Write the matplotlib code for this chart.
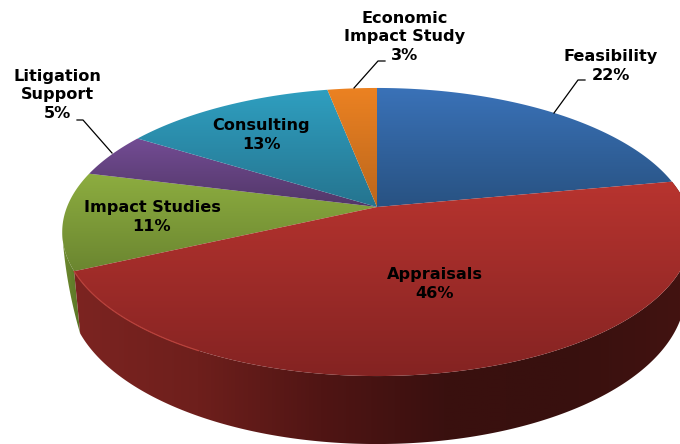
import matplotlib
matplotlib.use('Agg')
import matplotlib.pyplot as plt
import numpy as np
from matplotlib.colors import LinearSegmentedColormap
from matplotlib.patches import Polygon

categories = ['Feasibility', 'Appraisals', 'Impact Studies', 'Litigation\nSupport', 'Consulting', 'Economic\nImpact Study']
values = [22, 46, 11, 5, 13, 3]

# top face gradient (upper colour, lower colour) for every slice
top_colors = [('#3a72b8', '#285282'), ('#b8342f', '#842322'), ('#8dad40', '#6b8630'),
              ('#734c94', '#523768'), ('#2f9fc0', '#25748f'), ('#ec8222', '#bb661c')]
side_colors = [None, ['#7c2421', '#6e1f1c', '#501514', '#3a100f', '#38100e', '#431311'], ['#6f8c30', '#5a7526'], None, None, None]

# label centre and leader line, in pixels
label_pos = [(611, 66), (435, 284), (152, 217), (57, 95), (261, 135), (405, 37)]
leaders = [[(585, 80), (578, 80), (554, 113)], None, None, [(77, 120), (83, 120), (112, 153)], None,
           [(385, 61), (378, 61), (354, 88)]]

apex = (377, 207)
a, b, k = 310, 139.7, 0.1736


def rim(theta):
    d = 1 + k * np.cos(theta)
    return apex[0] + a * np.sin(theta) / d, apex[1] - b * np.cos(theta) / d


def depth(theta):
    return 58 - 10 * np.cos(theta)


def gradient(ax, patch, colors, vertical=True):
    cmap = LinearSegmentedColormap.from_list('g', colors)
    x, y = patch.get_xy().T
    g = np.linspace(0, 1, 256)
    g = g[:, None] if vertical else g[None, :]
    ext = (x.min(), x.max(), y.max(), y.min())
    im = ax.imshow(g, cmap=cmap, extent=ext, aspect='auto', zorder=patch.get_zorder(), interpolation='bilinear')
    ax.add_patch(patch)
    patch.set_visible(False)
    im.set_clip_path(patch.get_path(), patch.get_transform())


fig = plt.figure(figsize=(6.8, 4.44), dpi=100)
ax = fig.add_axes([0, 0, 1, 1])

edges = 2 * np.pi * np.cumsum([0] + values) / sum(values)

# sides first, then the top faces over them
for i, colors in enumerate(side_colors):
    if colors is None:
        continue
    if i == 2:
        # green wall runs out at the left tangent of the pie
        t = np.linspace(edges[i], np.radians(260), 100)
        x, y = rim(t)
        s = (t - t[0]) / (t[-1] - t[0])
        low_x = x + (1 - s) * 6
        low_y = y + depth(t) * (1 - s)
    else:
        t = np.linspace(edges[i], edges[i + 1], 300)
        x, y = rim(t)
        # the bottom rim sits a little further in, so the wall leans inwards
        low_x = apex[0] + (x - apex[0]) * 0.98
        low_y = y + depth(t)
    pts = np.r_[np.c_[x, y], np.c_[low_x, low_y][::-1]]
    gradient(ax, Polygon(pts, closed=True, zorder=2 if i == 1 else 1), colors, vertical=False)

for i in range(len(values)):
    t = np.linspace(edges[i], edges[i + 1], 300)
    x, y = rim(t)
    pts = np.r_[[apex], np.c_[x, y]]
    z = 4 if i == 1 else 3
    gradient(ax, Polygon(pts, closed=True, zorder=z), top_colors[i])

# light edge along the front left of the big slice
t = np.linspace(edges[2] - 0.62, edges[2], 100)
ax.plot(*rim(t), color='#b8403a', lw=0.9, zorder=5)

for i, name in enumerate(categories):
    ax.text(label_pos[i][0], label_pos[i][1], f'{name}\n{values[i]}%', ha='center', va='center',
            family='DejaVu Sans', fontweight='bold', fontsize=11.6, linespacing=1.3, color='black', zorder=7)
    if leaders[i]:
        lx, ly = zip(*leaders[i])
        ax.plot(lx, ly, color='black', lw=0.9, zorder=6)

ax.set_xlim(0, 680)
ax.set_ylim(444, 0)
ax.axis('off')
fig.savefig('out.png', dpi=100, facecolor='white')
